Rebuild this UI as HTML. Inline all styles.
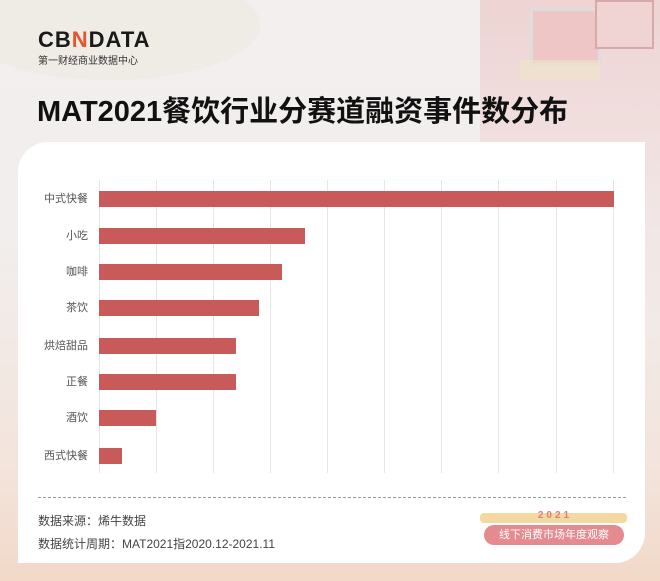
<!DOCTYPE html>
<html><head><meta charset="utf-8"><style>
body{margin:0;width:660px;height:581px;overflow:hidden;position:relative;font-family:"Liberation Sans","Noto Sans CJK SC",sans-serif;
background:linear-gradient(180deg,#f2efee 0%,#f1eeed 40%,#f3e4dc 80%,#f2d9c8 100%);}
.deco{position:absolute;}
.card{position:absolute;left:18px;top:142px;width:627px;height:421px;background:#fff;border-radius:30px 0 30px 0;}
.lbl{position:absolute;font-size:11px;color:#555;text-align:right;width:80px;left:8px;line-height:16px;}
.bar{position:absolute;left:99px;height:16px;background:#c85a5a;}
.grid{position:absolute;top:180px;height:293px;width:1px;background:#e6e6e6;}
</style></head><body>
<div class="deco" style="left:480px;top:0;width:180px;height:330px;background:linear-gradient(180deg,rgba(232,170,170,.4),rgba(240,200,200,.25) 60%,rgba(255,255,255,0));"></div>
<div class="deco" style="left:530px;top:8px;width:65px;height:52px;border:3px solid #ddd;background:#eec6c6;"></div>
<div class="deco" style="left:595px;top:0;width:55px;height:45px;border:2px solid #d8a9a9;background:#f0d4d4;"></div>
<div class="deco" style="left:520px;top:60px;width:80px;height:20px;background:#f0e4c8;opacity:.6"></div>
<div class="deco" style="left:-40px;top:-30px;width:300px;height:110px;border-radius:50%;background:#ede9df;opacity:.6"></div>

<div style="position:absolute;left:38px;top:27px;font-size:22px;font-weight:bold;letter-spacing:1px;color:#1a1a1a;">CB<span style="color:#e8542c">N</span>DATA</div>
<div style="position:absolute;left:38px;top:52px;font-size:10px;color:#333;">第一财经商业数据中心</div>
<div style="position:absolute;left:37px;top:88px;font-size:29px;font-weight:bold;color:#111;white-space:nowrap;">MAT2021餐饮行业分赛道融资事件数分布</div>

<div class="card"></div>
<div class="grid" style="left:99px"></div><div class="grid" style="left:156px"></div><div class="grid" style="left:213px"></div><div class="grid" style="left:270px"></div><div class="grid" style="left:327px"></div><div class="grid" style="left:384px"></div><div class="grid" style="left:441px"></div><div class="grid" style="left:498px"></div><div class="grid" style="left:556px"></div><div class="grid" style="left:613px"></div>

<div class="lbl" style="top:191px">中式快餐</div><div class="bar" style="top:191px;width:515px"></div>
<div class="lbl" style="top:228px">小吃</div><div class="bar" style="top:228px;width:206px"></div>
<div class="lbl" style="top:264px">咖啡</div><div class="bar" style="top:264px;width:183px"></div>
<div class="lbl" style="top:300px">茶饮</div><div class="bar" style="top:300px;width:160px"></div>
<div class="lbl" style="top:338px">烘焙甜品</div><div class="bar" style="top:338px;width:137px"></div>
<div class="lbl" style="top:374px">正餐</div><div class="bar" style="top:374px;width:137px"></div>
<div class="lbl" style="top:410px">酒饮</div><div class="bar" style="top:410px;width:57px"></div>
<div class="lbl" style="top:448px">西式快餐</div><div class="bar" style="top:448px;width:23px"></div>

<div style="position:absolute;left:38px;top:497px;width:588px;border-top:1px dashed #999;"></div>
<div style="position:absolute;left:38px;top:512px;font-size:12px;color:#444;">数据来源：烯牛数据</div>
<div style="position:absolute;left:38px;top:535px;font-size:12px;color:#444;">数据统计周期：MAT2021指2020.12-2021.11</div>
<div style="position:absolute;left:480px;top:513px;width:147px;height:10px;background:#f3d9a0;border-radius:4px;"></div>
<div style="position:absolute;left:530px;top:510px;width:50px;font-size:10px;font-weight:bold;color:#d98080;text-align:center;letter-spacing:3px;">2021</div>
<div style="position:absolute;left:484px;top:525px;width:140px;height:20px;background:#e58a8f;border-radius:10px;color:#fff;font-size:11px;text-align:center;line-height:20px;">线下消费市场年度观察</div>
</body></html>
